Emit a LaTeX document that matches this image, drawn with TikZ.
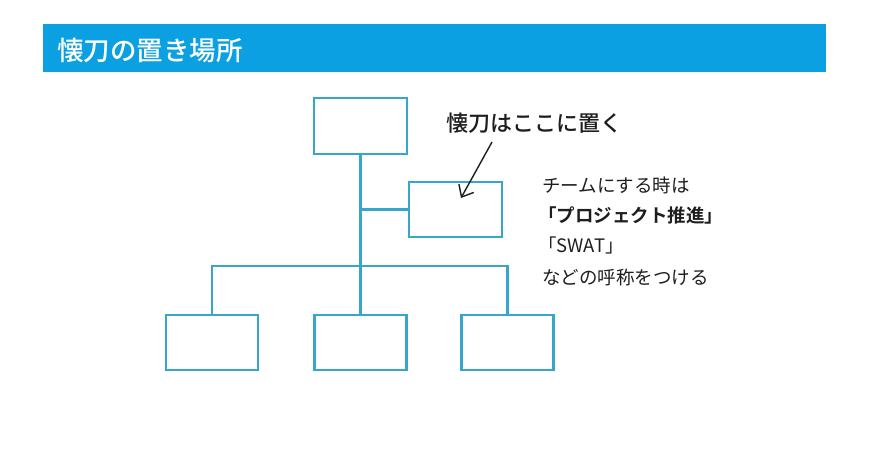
\documentclass[tikz,border=0pt]{standalone}
\usepackage{fontspec}
\setmainfont{Noto Sans CJK JP}[BoldFont={Noto Sans CJK JP Bold}]
\newfontfamily\medfont{Noto Sans CJK JP Medium}
\usetikzlibrary{arrows.meta}
\definecolor{hdrblue}{HTML}{0AA0E2}
\definecolor{boxblue}{HTML}{36A6CC}
\definecolor{txtgray}{HTML}{1E1E1E}
\tikzset{
  orgbox/.style={draw=boxblue, line width=2.2pt, fill=white, minimum width=92pt, minimum height=55pt, inner sep=0pt},
  orgline/.style={draw=boxblue, line width=2.2pt},
  note/.style={anchor=west, inner sep=0pt, text=txtgray, font=\fontsize{18.5}{20}\selectfont}
}
\begin{document}
\begin{tikzpicture}[x=1pt,y=-1pt]
\useasboundingbox (0,0) rectangle (870,457);
\fill[white] (0,0) rectangle (870,457);
% header
\node[fill=hdrblue, minimum width=783pt, minimum height=48pt, inner sep=0pt, anchor=north west] (hdr) at (43,24) {};
\node[anchor=west, inner sep=0pt, text=white, font=\fontsize{26.5}{28}\selectfont\medfont] (title) at (57,50) {懐刀の置き場所};
% boxes
\node[orgbox, minimum width=93pt, minimum height=56pt] (top) at (360.5,126) {};
\node[orgbox, minimum width=93pt] (rb) at (455.5,209.5) {};
\node[orgbox] (bl) at (212,342.5) {};
\node[orgbox] (bm) at (360.5,342.5) {};
\node[orgbox] (br) at (507.5,342.5) {};
\coordinate (bus) at (360.5,266);
% connectors
\draw[orgline] (top.south) -- (bm.north);
\draw[orgline] (top.south |- rb.west) -- (rb.west);
\draw[orgline] (bl.north) |- (br.north |- bus) -- (br.north);
% callout
\node[anchor=west, inner sep=0pt, text=txtgray, font=\fontsize{22}{24}\selectfont\medfont] (call) at (446,123) {懐刀はここに置く};
\coordinate (arrS) at (492,142);
\coordinate (arrE) at (461,198);
\draw[line width=1.4pt, txtgray, -{Straight Barb[length=10pt,width=17pt]}] (arrS) -- (arrE);
% notes
\node[note] (n1) at (542,185) {チームにする時は};
\node[note, font=\fontsize{18.5}{20}\selectfont\bfseries] (n2) at (538,215) {「プロジェクト推進」};
\node[note] (n3) at (538,245) {「SWAT」};
\node[note] (n4) at (542,277) {などの呼称をつける};
\end{tikzpicture}
\end{document}
